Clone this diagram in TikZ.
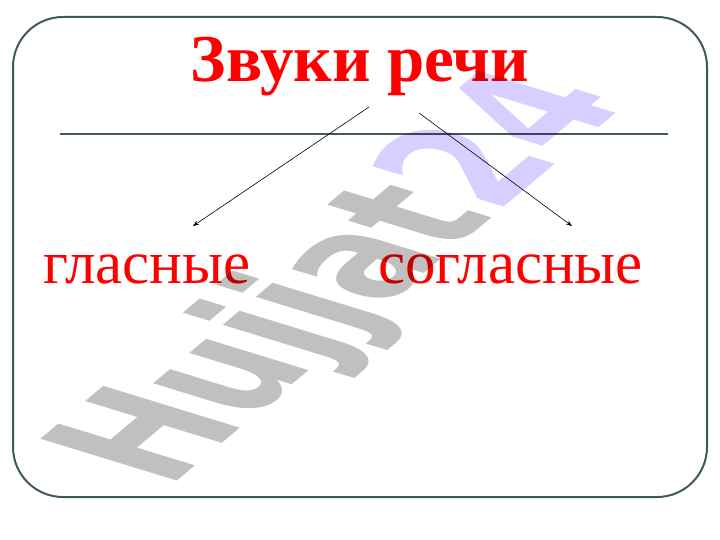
\documentclass[tikz,border=0pt]{standalone}
\usepackage{fontspec}
\setmainfont{Liberation Serif}
\newfontfamily\wmfont{DejaVu Sans}
\usetikzlibrary{arrows.meta,positioning}
\definecolor{framegreen}{RGB}{62,92,84}
\definecolor{textred}{RGB}{255,0,0}
\definecolor{wmgray}{RGB}{192,192,192}
\definecolor{wmlilac}{RGB}{216,206,255}

\begin{document}
\begin{tikzpicture}[x=1pt, y=-1pt,
  border/.style={draw=framegreen, line width=2pt, rounded corners=50pt},
  rule/.style={draw=framegreen, line width=2.6pt},
  title/.style={font=\fontsize{67}{72}\selectfont\bfseries, text=textred,
                inner sep=0pt, anchor=base},
  kind/.style={font=\fontsize{61}{66}\selectfont, text=textred,
               inner sep=0pt, anchor=base west},
  arr/.style={-{Stealth[length=6pt,width=4.5pt]}, line width=0.6pt},
  wmtext/.style={font=\wmfont\bfseries\fontsize{100}{100}\selectfont,
                 inner sep=0pt, anchor=base west, transform shape}
]
\useasboundingbox (0,0) rectangle (720,540);

\draw[border] (13,17) rectangle (707,497);

\node[title] (title) at (360,82) {Звуки речи};
\coordinate (ruleL) at (60,134);
\coordinate (ruleR) at (668,134);
\draw[rule] (ruleL) -- (ruleR);

\node[kind] (vowels) at (43,283) {гласные};
\node[kind] (consonants) at (378,283) {согласные};

% arrows from the title
\coordinate (fromL) at (369,107);
\coordinate (fromR) at (419,113);
\coordinate (toL) at (193,226);
\coordinate (toR) at (572,226);
\draw[arr] (fromL) -- (toL);
\draw[arr] (fromR) -- (toR);

% Watermark
\begin{scope}[blend mode=multiply, cm={0.965,0.810,-1.874,0.574,(168,489)}]
  \node[wmtext, text=wmgray] (wm) at (0,0) {Hujjat};
  \node[wmtext, text=wmlilac] (wmnum) at (340,0) {24};
\end{scope}

\end{tikzpicture}
\end{document}
